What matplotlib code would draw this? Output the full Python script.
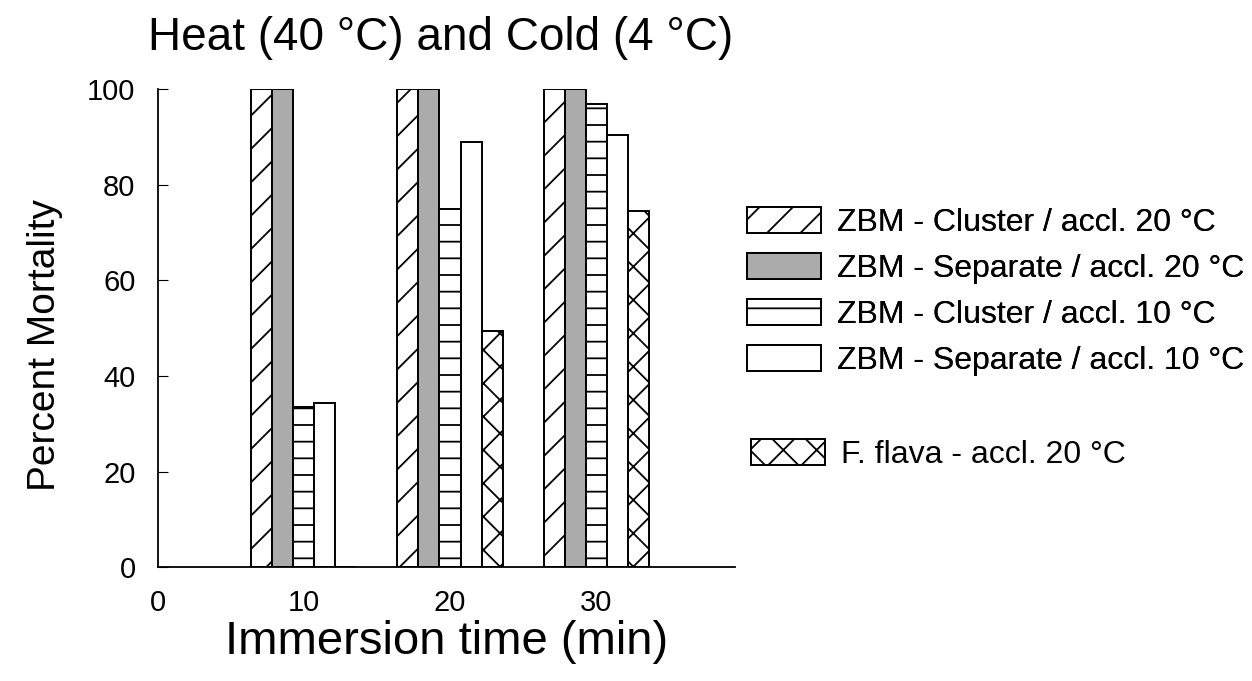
import matplotlib
matplotlib.use("Agg")
import matplotlib.pyplot as plt
import numpy as np
from matplotlib.patches import Patch

plt.rcParams['font.family'] = ['Liberation Sans', 'DejaVu Sans']
plt.rcParams['hatch.linewidth'] = 1.3

times = [10, 20, 30]
series_labels = [
    "ZBM - Cluster / accl. 20 °C",
    "ZBM - Separate / accl. 20 °C",
    "ZBM - Cluster / accl. 10 °C",
    "ZBM - Separate / accl. 10 °C",
    "F. flava - accl. 20 °C",
]
cluster_20 = [100, 100, 100]
separate_20 = [100, 100, 100]
cluster_10 = [33.5, 75, 97]
separate_10 = [34.3, 89, 90.5]
flava_20 = [0, 49.5, 74.5]

series = [cluster_20, separate_20, cluster_10, separate_10, flava_20]
faces = ["white", "#ababab", "white", "white", "white"]
hatches = ["/", None, "-", None, "x"]

fig = plt.figure(figsize=(12.52, 6.81), dpi=100)
ax = fig.add_axes([0.126, 0.167, 0.461, 0.702])

w = 1.44
x = np.array(times, dtype=float)
handles = []
for i, vals in enumerate(series):
    offs = (i - 2) * w
    ax.bar(x + offs, vals, width=w, color=faces[i], edgecolor="black",
           hatch=hatches[i], linewidth=1.4)
    handles.append(Patch(facecolor=faces[i], edgecolor="black",
                         hatch=hatches[i], linewidth=1.4, label=series_labels[i]))

ax.set_xlim(0, 39.5)
ax.set_ylim(0, 100)
ax.set_xticks([0, 10, 20, 30])
ax.set_yticks([0, 20, 40, 60, 80, 100])
ax.tick_params(axis="y", direction="in", length=7, labelsize=21, pad=16)
ax.tick_params(axis="x", length=0, labelsize=21, pad=16)
for s in ["top", "right"]:
    ax.spines[s].set_visible(False)
for s in ["left", "bottom"]:
    ax.spines[s].set_linewidth(1.3)

ax.set_xlabel("Immersion time (min)", fontsize=34, labelpad=2)
ax.set_ylabel("Percent Mortality", fontsize=28, labelpad=14)
ax.yaxis.set_label_coords(-0.165, 0.465)
fig.text(0.118, 0.944, "Heat (40 °C) and Cold (4 °C)", fontsize=33,
         ha="left", va="center")

leg1 = fig.legend(handles=handles[:4], loc="upper left",
                  bbox_to_anchor=(0.597, 0.696), frameon=False, fontsize=23,
                  handlelength=2.3, handleheight=0.87, handletextpad=0.5,
                  labelspacing=0.47, borderaxespad=0, borderpad=0)
leg2 = fig.legend(handles=handles[4:], loc="center left",
                  bbox_to_anchor=(0.600, 0.332), frameon=False, fontsize=23,
                  handlelength=2.3, handleheight=0.87, handletextpad=0.5,
                  borderaxespad=0, borderpad=0)
fig.add_artist(leg1)

fig.savefig("out.png", dpi=100)
